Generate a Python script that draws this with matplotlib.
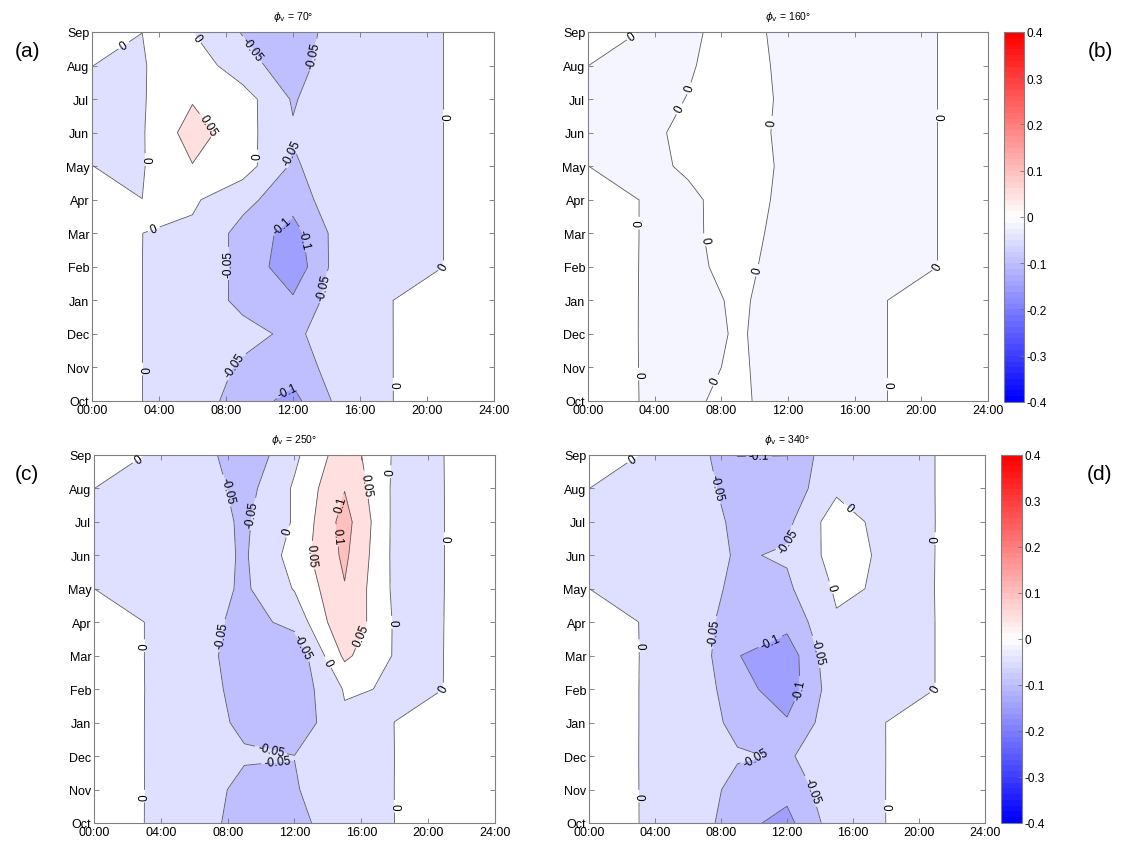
import numpy as np
import matplotlib
matplotlib.use("Agg")
import matplotlib.pyplot as plt
from matplotlib.colors import LinearSegmentedColormap, Normalize
from matplotlib.cm import ScalarMappable

plt.rcParams["font.family"] = ["Liberation Sans", "DejaVu Sans"]
plt.rcParams["mathtext.fontset"] = "dejavusans"

# grid: hour of day (columns) x month (rows, Oct -> Sep)
hours = [0, 3, 6, 9, 12, 15, 18, 21, 24]
months = ["Oct", "Nov", "Dec", "Jan", "Feb", "Mar", "Apr", "May", "Jun", "Jul", "Aug", "Sep"]
N = 1e-4  # night time (no sun)

phi70 = [
    [N, N, -0.02, -0.0756, -0.115, -0.03, N, N, N],
    [N, N, -0.02, -0.0575, -0.08, -0.02, N, N, N],
    [N, N, -0.02, -0.035, -0.06, -0.02, N, N, N],
    [N, N, -0.02, -0.062, -0.093, -0.015, N, N, N],
    [N, N, -0.02, -0.0617, -0.135, -0.015, -0.02, N, N],
    [N, N, -0.0089, -0.066, -0.12, -0.02, -0.02, N, N],
    [N, N, 0.0073, -0.0356, -0.08, -0.008, -0.02, N, N],
    [N, -0.003, 0.048, 0.0237, -0.058, -0.01, -0.02, N, N],
    [-0.01, -0.004, 0.073, 0.0193, -0.045, -0.01, -0.02, N, N],
    [-0.01, -0.004, 0.0456, 0.0225, -0.055, -0.005, -0.02, N, N],
    [N, -0.003, 0.03, -0.03, -0.0765, -0.005, -0.02, N, N],
    [N, N, 0.0005, -0.053, -0.08, -0.02, -0.02, N, N],
]

phi160 = [
    [N, N, -0.0046, 0.008, -0.0203, -0.01, N, N, N],
    [N, N, -0.01, 0.005, -0.0161, -0.01, N, N, N],
    [N, N, -0.0163, 0.004, -0.017, -0.01, N, N, N],
    [N, N, -0.013, 0.005, -0.015, -0.01, N, N, N],
    [N, N, -0.0073, 0.01, -0.015, -0.01, -0.01, N, N],
    [N, N, -0.0046, 0.01, -0.0088, -0.01, -0.01, N, N],
    [N, N, -0.0044, 0.01, -0.0054, -0.01, -0.01, N, N],
    [N, -0.007, 0.003, 0.01, -0.0038, -0.01, -0.01, N, N],
    [-0.005, -0.0067, 0.005, 0.01, -0.0052, -0.01, -0.01, N, N],
    [-0.005, -0.007, 0.0005, 0.01, -0.0041, -0.01, -0.01, N, N],
    [N, -0.007, -0.002, 0.01, -0.0054, -0.01, -0.01, N, N],
    [N, N, -0.0044, 0.01, -0.0076, -0.01, -0.01, N, N],
]

phi250 = [
    [N, N, -0.026, -0.07, -0.065, -0.021, N, N, N],
    [N, N, -0.015, -0.068, -0.0547, -0.01, N, N, N],
    [N, N, -0.02, -0.043, -0.0493, -0.02, N, N, N],
    [N, N, -0.02, -0.062, -0.0836, -0.0078, N, N, N],
    [N, N, -0.0086, -0.08, -0.085, 0.004, -0.003, N, N],
    [N, N, -0.022, -0.08, -0.09, 0.06, -0.0038, N, N],
    [N, N, -0.02, -0.07, -0.0346, 0.0934, -0.0052, N, N],
    [N, -0.012, -0.0193, -0.058, 0.003, 0.097, -0.01, N, N],
    [-0.008, -0.012, -0.0214, -0.056, 0.02, 0.11, -0.012, N, N],
    [-0.008, -0.012, -0.0193, -0.058, 0.005, 0.12, -0.012, N, N],
    [N, -0.01, -0.0133, -0.07, 0.0062, 0.098, -0.01, N, N],
    [N, N, -0.0155, -0.09, -0.01, 0.0787, -0.006, N, N],
]

phi340 = [
    [N, N, -0.0077, -0.085, -0.115, -0.021, N, N, N],
    [N, N, -0.0118, -0.068, -0.085, -0.015, N, N, N],
    [N, N, -0.02, -0.0445, -0.055, -0.024, N, N, N],
    [N, N, -0.0127, -0.065, -0.094, -0.0164, N, N, N],
    [N, N, -0.0114, -0.078, -0.13, -0.016, -0.01, N, N],
    [N, N, -0.0063, -0.098, -0.13, -0.005, -0.01, N, N],
    [N, N, -0.026, -0.07, -0.084, -0.0047, -0.01, N, N],
    [N, -0.01, -0.02, -0.062, -0.0585, 0.0065, -0.0048, N, N],
    [-0.008, -0.01, -0.02, -0.055, -0.0447, 0.02, -0.0082, N, N],
    [-0.008, -0.01, -0.015, -0.061, -0.0614, 0.0285, -0.0209, N, N],
    [N, -0.01, -0.0086, -0.08, -0.08, -0.01, -0.01, N, N],
    [N, N, -0.0095, -0.101, -0.1005, -0.0082, -0.01, N, N],
]

angles = ["70", "160", "250", "340"]
cbar_ticks = [-0.4, -0.3, -0.2, -0.1, 0, 0.1, 0.2, 0.3, 0.4]

# where the contour labels go (hour, month index)
labels70 = [(1.9, 10.6), (6.2, 10.8), (9.5, 10.45), (13.4, 10.3), (21, 8.5), (6.9, 8.2),
            (3.1, 7.2), (10, 7.3), (11.9, 7.4), (3.7, 5.1), (11.4, 5.2), (12.3, 4.8),
            (8.1, 4.1), (13.8, 3.4), (21, 4), (8.4, 1.1), (3, 0.95), (18, 0.5), (11.7, 0.3)]
labels160 = [(2.6, 10.9), (6.2, 9.3), (5.5, 8.7), (11.1, 8.3), (21, 8.5), (3, 5.3),
             (6.9, 4.8), (10.1, 3.9), (21, 4), (3, 0.8), (7.7, 0.6), (18, 0.5)]
labels250 = [(2.6, 10.9), (7.6, 9.9), (9.8, 9.2), (11.7, 8.7), (16.1, 10.1), (14.9, 9.5),
             (14.7, 8.6), (17.8, 10.5), (12.8, 8.0), (21, 8.5), (17.8, 6.0), (7.7, 5.6),
             (11.5, 5.0), (16.1, 5.6), (13.6, 4.7), (3, 5.3), (21, 4), (10.6, 2.2),
             (11.0, 1.75), (3, 0.8), (18, 0.5)]
labels340 = [(2.6, 10.9), (10.3, 10.9), (7.5, 10.0), (15.7, 9.4), (11.6, 8.5), (21, 8.5),
             (14.4, 7.0), (7.5, 5.7), (10.9, 5.5), (13.7, 5.1), (3, 5.3), (12.8, 4.0),
             (21, 4), (10.1, 2.0), (13.1, 0.9), (3, 0.8), (18, 0.5)]


def shade(v):
    # blue -> white -> red over -0.4 .. 0.4
    t = min(abs(v) / 0.4, 1.0)
    return (1 - t, 1 - t, 1.0) if v < 0 else (1.0, 1 - t, 1 - t)


cmap64 = LinearSegmentedColormap.from_list("bwr_64", [(0, 0, 1), (1, 1, 1), (1, 0, 0)], N=64)
norm = Normalize(-0.4, 0.4)

# band edges, the value each band is coloured with, and the labelled lines
panels = [
    dict(z=phi70, edges=[-0.2, -0.1, -0.05, 0, 0.05, 0.1], fill=[-0.15, -0.1, -0.05, 0, 0.05],
         lines=[-0.1, -0.05, 0, 0.05], lab=labels70, pos=[0.0816, 0.5243, 0.3567, 0.4367], tag="(a)"),
    dict(z=phi160, edges=[-0.03, 0, 0.03], fill=[-0.016, 0],
         lines=[0], lab=labels160, pos=[0.5217, 0.5243, 0.3550, 0.4367], tag="(b)"),
    dict(z=phi250, edges=[-0.1, -0.05, 0, 0.05, 0.1, 0.2], fill=[-0.1, -0.05, 0, 0.05, 0.1],
         lines=[-0.05, 0, 0.05, 0.1], lab=labels250, pos=[0.0834, 0.0249, 0.3558, 0.4355], tag="(c)"),
    dict(z=phi340, edges=[-0.2, -0.1, -0.05, 0, 0.05], fill=[-0.15, -0.1, -0.05, 0],
         lines=[-0.1, -0.05, 0], lab=labels340, pos=[0.5226, 0.0249, 0.3514, 0.4355], tag="(d)"),
]

fig = plt.figure(figsize=(11.27, 8.45), dpi=100)

for p, ang in zip(panels, angles):
    ax = fig.add_axes(p["pos"])
    z = np.array(p["z"])
    yy = np.arange(len(months))
    ax.contourf(hours, yy, z, levels=p["edges"], colors=[shade(v) for v in p["fill"]])
    cs = ax.contour(hours, yy, z, levels=p["lines"], colors="0.35",
                    linewidths=0.6, linestyles="solid")
    ax.set_xlim(0, 24)
    ax.set_ylim(0, 11)
    txts = ax.clabel(cs, fmt="%g", fontsize=8.5, inline=True, inline_spacing=3,
                     colors="black", manual=p["lab"])

    ax.set_xticks(range(0, 25, 4))
    ax.set_xticklabels(["%02d:00" % h for h in range(0, 25, 4)])
    ax.set_yticks(yy)
    ax.set_yticklabels(months)
    ax.tick_params(direction="in", top=True, right=True, length=3.5, width=0.6,
                   color="0.45", labelsize=9, pad=2)
    for s in ax.spines.values():
        s.set_color("0.5")
        s.set_linewidth(0.8)
    ax.set_title(r"$\phi_{\mathrm{v}}$ = %s°" % ang, fontsize=7.5, pad=9)

    x0 = 0.024 if p["tag"] in ("(a)", "(c)") else 0.976
    y0 = p["pos"][1] + p["pos"][3] - 0.022
    fig.text(x0, y0, p["tag"], fontsize=15, ha="center", va="center")

# colour bars beside the right-hand panels
for cpos in ([0.8909, 0.5231, 0.0177, 0.4379], [0.8882, 0.0249, 0.0186, 0.4355]):
    cax = fig.add_axes(cpos)
    cb = fig.colorbar(ScalarMappable(norm=norm, cmap=cmap64), cax=cax, ticks=cbar_ticks)
    cb.ax.set_yticklabels(["%g" % t for t in cbar_ticks])
    cb.ax.tick_params(direction="in", length=3, width=0.6, color="0.45", labelsize=8.5, pad=2)
    cb.outline.set_edgecolor("0.5")
    cb.outline.set_linewidth(0.8)

fig.savefig("out.png", dpi=100)
